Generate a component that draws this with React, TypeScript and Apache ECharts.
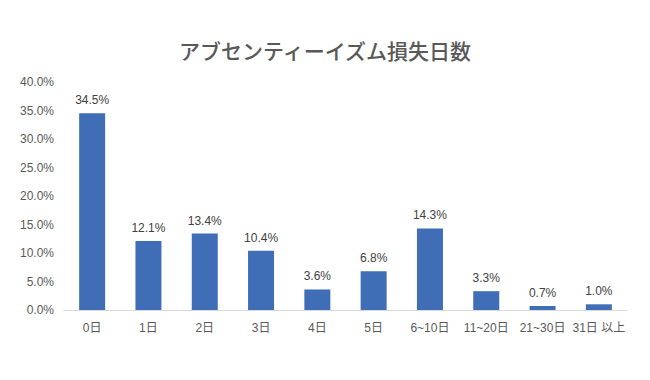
import React, { useEffect, useRef } from "react";
import * as echarts from "echarts";

const categories = ["0日", "1日", "2日", "3日", "4日", "5日", "6~10日", "11~20日", "21~30日", "31日 以上"];
const values = [34.5, 12.1, 13.4, 10.4, 3.6, 6.8, 14.3, 3.3, 0.7, 1.0];
const titleText = "アブセンティーイズム損失日数";

const FONT = "'Liberation Sans', 'Noto Sans CJK JP', sans-serif";

export default function App() {
  const ref = useRef<HTMLDivElement>(null);
  useEffect(() => {
    if (!ref.current) return;
    const chart = echarts.init(ref.current, undefined, { renderer: "svg" });
    chart.setOption({
      animation: false,
      backgroundColor: "#ffffff",
      title: {
        text: titleText,
        left: "center",
        top: 34,
        textStyle: { fontSize: 21, fontWeight: 500, color: "#595959", fontFamily: "'Noto Sans CJK JP', sans-serif" },
      },
      grid: { left: 64, right: 23, top: 82, bottom: 70, containLabel: false },
      xAxis: {
        type: "category",
        data: categories,
        axisLine: { lineStyle: { color: "#d9d9d9" } },
        axisTick: { show: false },
        axisLabel: { color: "#595959", fontSize: 12, margin: 12, fontFamily: FONT, interval: 0 },
      },
      yAxis: {
        type: "value",
        min: 0,
        max: 40,
        interval: 5,
        splitLine: { show: false },
        axisLine: { show: false },
        axisTick: { show: false },
        axisLabel: {
          color: "#595959",
          fontSize: 12,
          margin: 10,
          fontFamily: FONT,
          formatter: (v: number) => v.toFixed(1) + "%",
        },
      },
      series: [
        {
          type: "bar",
          data: values,
          barWidth: 26,
          itemStyle: { color: "#3f6db6" },
          label: {
            show: true,
            position: "top",
            distance: 7,
            color: "#404040",
            fontSize: 12,
            fontFamily: FONT,
            formatter: (p: any) => Number(p.value).toFixed(1) + "%",
          },
        },
      ],
    });
    return () => chart.dispose();
  }, []);
  return <div ref={ref} style={{ position: "absolute", left: 0, top: 0, width: 650, height: 380 }} />;
}
